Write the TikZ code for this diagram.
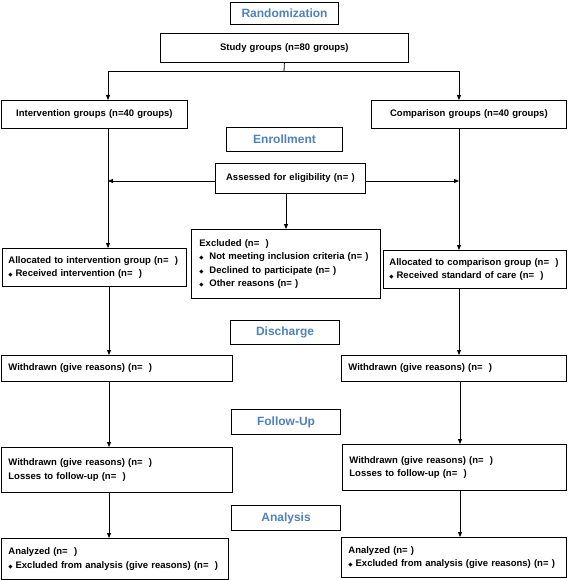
\documentclass[tikz,border=0pt]{standalone}
\usepackage{fontspec}
\setmainfont{Liberation Sans}
\newfontfamily\symf{DejaVu Sans}
\usetikzlibrary{arrows.meta}
\definecolor{titleblue}{RGB}{79,129,189}
\newcommand\dbul{{\symf\fontsize{5.5}{5.5}\selectfont ◆}}
\newcommand\ebul{\makebox[10pt][l]{\dbul}}
\newcommand\abul{\dbul\hspace{3pt}}
\begin{document}
\begin{tikzpicture}[x=1pt,y=-1pt,
  box/.style={draw=black, line width=0.8pt, inner xsep=7pt, inner ysep=0pt,
    anchor=north west, font=\fontsize{9.5}{13.5}\selectfont\bfseries},
  lbox/.style={box, align=left},
  cbox/.style={box, align=center},
  ttl/.style={draw=black, line width=1.1pt, inner sep=0pt, anchor=north west,
    align=center, font=\fontsize{12}{14}\selectfont\bfseries, text=titleblue},
  arr/.style={line width=0.8pt, -{Triangle[length=5pt,width=4pt]}},
  ln/.style={line width=0.8pt}]
\useasboundingbox (0,0) rectangle (567,580);

% titles
\node[ttl, minimum width=108pt, minimum height=22pt] (rand) at (230,2) {Randomization};
\node[ttl, minimum width=116pt, minimum height=24pt] (enroll) at (226,127) {Enrollment};
\node[ttl, minimum width=109pt, minimum height=24pt] (disch) at (230,320) {Discharge};
\node[ttl, minimum width=109pt, minimum height=25pt] (fu) at (231,409) {Follow-Up};
\node[ttl, minimum width=109pt, minimum height=25pt] (ana) at (231,505) {Analysis};

% boxes
\node[cbox, text width=234pt, minimum height=29pt] (study) at (160,33) {Study groups (n=80 groups)};
\node[cbox, text width=172pt, minimum height=28pt] (interv) at (1,100) {Intervention groups (n=40 groups)};
\node[cbox, text width=181pt, minimum height=28pt] (comp) at (371,100) {Comparison groups (n=40 groups)};
\node[cbox, text width=136pt, minimum height=30pt] (assess) at (215,163) {Assessed for eligibility (n=~)};
\node[lbox, inner xsep=8pt, text width=173pt, minimum height=69pt] (excl) at (191,229)
  {Excluded (n=~~)\\
   \ebul Not meeting inclusion criteria (n=~)\\
   \ebul Declined to participate (n=~)\\
   \ebul Other reasons (n=~)};
\node[lbox, inner xsep=6pt, text width=172pt, minimum height=38pt] (allocI) at (2,248)
  {\mbox{Allocated to intervention group (n=~~)}\\ \abul Received intervention (n=~~)};
\node[lbox, inner xsep=6pt, text width=171pt, minimum height=38pt] (allocC) at (383,250)
  {Allocated to comparison group (n=~~)\\ \abul Received standard of care (n=~~)};
\node[lbox, text width=217pt, minimum height=26pt] (wdL) at (1,355) {Withdrawn (give reasons) (n=~~)};
\node[lbox, text width=211pt, minimum height=26pt] (wdR) at (341,355) {Withdrawn (give reasons) (n=~~)};
\node[lbox, text width=217pt, minimum height=45pt] (wlL) at (1,447)
  {Withdrawn (give reasons) (n=~~)\\ Losses to follow-up (n=~~)};
\node[lbox, text width=210pt, minimum height=46pt] (wlR) at (342,444)
  {Withdrawn (give reasons) (n=~~)\\ Losses to follow-up (n=~~)};
\node[lbox, text width=213pt, minimum height=41pt] (anL) at (1,538)
  {Analyzed (n=~~)\\ \abul Excluded from analysis (give reasons) (n=~~)};
\node[lbox, text width=211pt, minimum height=40pt] (anR) at (341,537)
  {Analyzed (n=~)\\ \abul Excluded from analysis (give reasons) (n=~)};

% connectors
\coordinate (split) at (284,71);
\draw[ln] (study.south) -- (split);
\draw[arr] (split) -| (interv.north -| 108,0);
\draw[arr] (split) -| (comp.north -| 459,0);
\draw[arr] (interv.south -| 108,0) -- (allocI.north -| 108,0);
\draw[arr] (comp.south -| 459,0) -- (allocC.north -| 459,0);
\coordinate (lhit) at (108,181);
\coordinate (rhit) at (459,181);
\draw[arr] (assess.west |- lhit) -- (lhit);
\draw[arr] (assess.east |- rhit) -- (rhit);
\draw[arr] (assess.south -| 286,0) -- (excl.north -| 286,0);
\draw[arr] (allocI.south -| 109,0) -- (wdL.north -| 109,0);
\draw[arr] (allocC.south -| 459,0) -- (wdR.north -| 459,0);
\draw[arr] (wdL.south -| 109,0) -- (wlL.north -| 109,0);
\draw[arr] (wdR.south -| 460,0) -- (wlR.north -| 460,0);
\draw[arr] (wlL.south -| 109,0) -- (anL.north -| 109,0);
\draw[arr] (wlR.south -| 460,0) -- (anR.north -| 460,0);
\end{tikzpicture}
\end{document}
